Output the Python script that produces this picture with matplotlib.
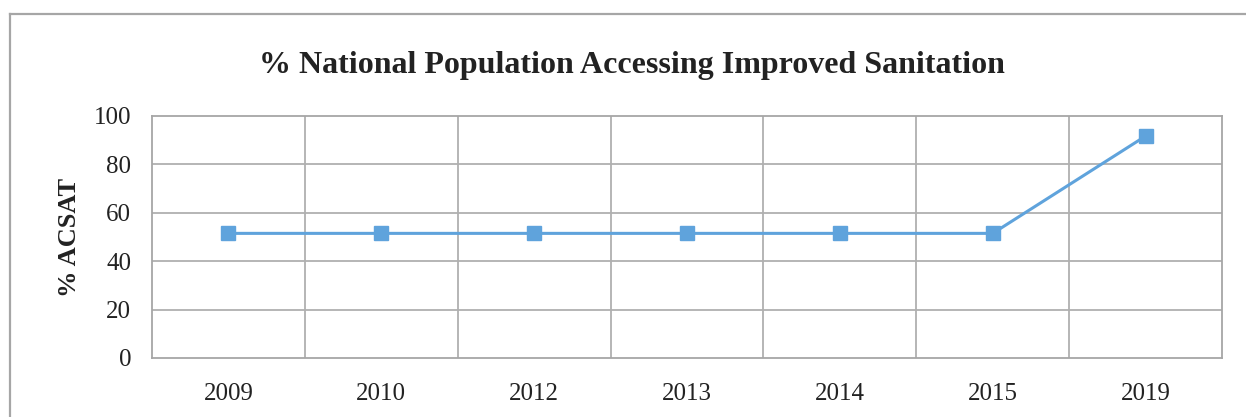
import matplotlib
matplotlib.use("Agg")
import matplotlib.pyplot as plt
from matplotlib.lines import Line2D

plt.rcParams['font.family'] = ['Liberation Serif', 'DejaVu Serif']

years = ["2009", "2010", "2012", "2013", "2014", "2015", "2019"]
acsat = [51.5, 51.5, 51.5, 51.5, 51.5, 51.5, 91.7]
y_ticks = [0, 20, 40, 60, 80, 100]

W, H = 1246, 417
fig = plt.figure(figsize=(W / 100, H / 100), dpi=100)
fig.patch.set_facecolor("white")

# chart frame (left and top edges visible)
frame_x, frame_y = 10 / W, 1 - 14 / H
fig.add_artist(Line2D([frame_x, frame_x], [0, frame_y], transform=fig.transFigure,
                      color="#a6a6a6", lw=1.6))
fig.add_artist(Line2D([frame_x, 1], [frame_y, frame_y], transform=fig.transFigure,
                      color="#a6a6a6", lw=1.6))

left, right, top, bottom = 152, 1222, 116, 358
ax = fig.add_axes([left / W, 1 - bottom / H, (right - left) / W, (bottom - top) / H])

n = len(years)
xs = list(range(n))
ax.set_xlim(-0.5, n - 0.5)
ax.set_ylim(0, 100)

# category boundary gridlines
for i in range(1, n):
    ax.axvline(i - 0.5, color="#b0b0b0", lw=1.3, zorder=1)
for t in y_ticks[1:-1]:
    ax.axhline(t, color="#b0b0b0", lw=1.3, zorder=1)

ax.plot(xs, acsat, color="#5fa3dc", lw=2.2, marker="s", markersize=10,
        markerfacecolor="#5fa3dc", markeredgecolor="#5fa3dc", zorder=3,
        clip_on=False)

for s in ax.spines.values():
    s.set_color("#a6a6a6")
    s.set_linewidth(1.3)

ax.set_xticks(xs)
ax.set_xticklabels(years)
ax.set_yticks(y_ticks)
ax.tick_params(axis="both", length=0, labelsize=18, colors="#222222")
ax.tick_params(axis="x", pad=18)
ax.tick_params(axis="y", pad=15)

ax.set_ylabel("% ACSAT", fontsize=19, fontweight="bold", labelpad=9, color="#222222")

fig.text(632 / W, 1 - 65 / H, "% National Population Accessing Improved Sanitation",
         ha="center", va="center", fontsize=23, fontweight="bold", color="#222222")

fig.savefig("out.png", dpi=100, facecolor="white")
